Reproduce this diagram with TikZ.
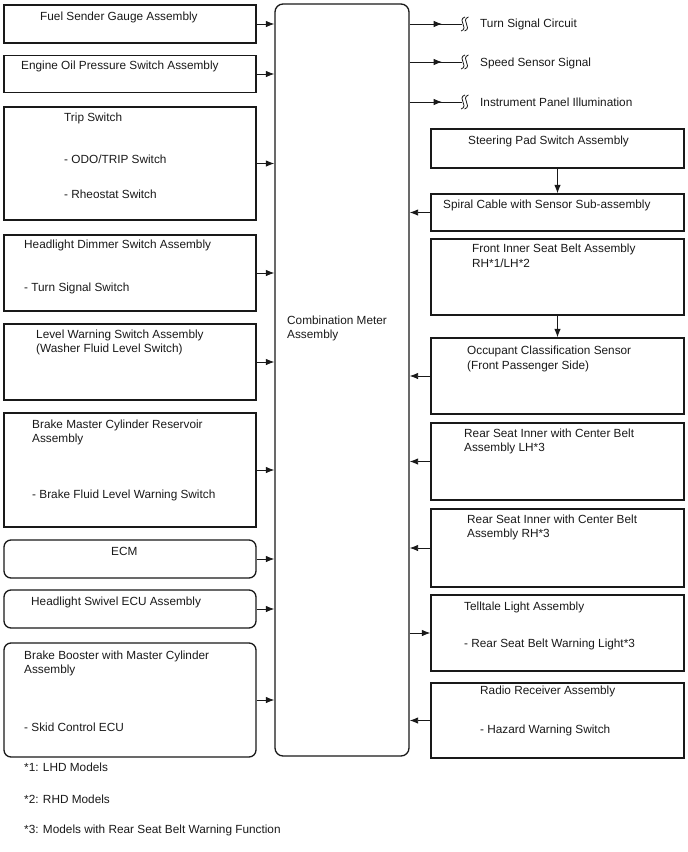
\documentclass[tikz,border=0pt]{standalone}
\usepackage{fontspec}
\setmainfont{Liberation Sans}
\usetikzlibrary{arrows.meta, positioning, calc, decorations.markings}

\begin{document}
\begin{tikzpicture}[x=1pt, y=-1pt,
  every node/.style={font=\fontsize{11.8}{14.3}\selectfont, text=black!90},
  box/.style={draw=black!90, line width=1.3pt, inner sep=0pt, minimum width=252pt},
  rbox/.style={box, rounded corners=7pt},
  txt/.style={anchor=base west, inner sep=0pt, align=left},
  conn/.style={draw=black!90, line width=0.9pt, -{Latex[length=8.5pt,width=6.5pt]}},
  sig/.style={draw=black!90, line width=0.9pt, postaction={decorate},
    decoration={markings, mark=at position 0.62 with {\arrow{Latex[length=8.5pt,width=6.5pt]}}}},
  brk/.pic={
    \draw[black!90, line width=0.8pt] (3,-7) .. controls (-1,-6) and (-0.5,-2) .. (1,0)
      .. controls (2.5,2) and (3,6) .. (-1,7);
    \draw[black!90, line width=0.8pt] (6.5,-7) .. controls (2.5,-6) and (3,-2) .. (4.5,0)
      .. controls (6,2) and (6.5,6) .. (2.5,7);
  }]
  \useasboundingbox (0,0) rectangle (688,852);

  % meter
  \node[draw=black!90, line width=1.3pt, rounded corners=8pt, inner sep=0pt,
    minimum width=134pt, minimum height=752pt] (meter) at (342,380) {};
  % (multi-line labels sit on the baseline of their last line)
  \node[txt] (metertxt) at (287,338.3) {Combination Meter\\Assembly};

  % left side boxes
  \node[box, minimum height=38pt] (fuel) at (130,24) {};
  \node[box, minimum height=37pt] (oil) at (130,74) {};
  \node[box, minimum height=113pt] (trip) at (130,163.5) {};
  \node[box, minimum height=76pt] (dimmer) at (130,273) {};
  \node[box, minimum height=76pt] (level) at (130,362) {};
  \node[box, minimum height=114pt] (brkres) at (130,470) {};
  \node[rbox, minimum height=38pt] (ecm) at (130,559) {};
  \node[rbox, minimum height=38pt] (swivel) at (130,609) {};
  \node[rbox, minimum height=114pt] (booster) at (130,700) {};

  \node[txt] (fueltxt) at (40,20.5) {Fuel Sender Gauge Assembly};
  \node[txt] (oiltxt) at (21,69) {Engine Oil Pressure Switch Assembly};
  \node[txt] (triptxt) at (64,121) {Trip Switch};
  \node[txt] (odotxt) at (64,163) {- ODO/TRIP Switch};
  \node[txt] (rheotxt) at (64,198) {- Rheostat Switch};
  \node[txt] (dimmertxt) at (24,248) {Headlight Dimmer Switch Assembly};
  \node[txt] (turnswtxt) at (24,291) {- Turn Signal Switch};
  \node[txt] (leveltxt) at (36,352.3) {Level Warning Switch Assembly\\(Washer Fluid Level Switch)};
  \node[txt] (brkrestxt) at (32,442.5) {Brake Master Cylinder Reservoir\\Assembly};
  \node[txt] (fluidtxt) at (32,498) {- Brake Fluid Level Warning Switch};
  \node[txt] (ecmtxt) at (111,555) {ECM};
  \node[txt] (swiveltxt) at (31,605) {Headlight Swivel ECU Assembly};
  \node[txt] (boostertxt) at (24,673.3) {Brake Booster with Master Cylinder\\Assembly};
  \node[txt] (skidtxt) at (24,731) {- Skid Control ECU};

  % left side arrows into the meter
  \foreach \n in {fuel, oil, trip, dimmer, level, brkres, ecm, swivel, booster}
    \draw[conn] (\n.east) -- (\n.east -| meter.west);

  % output signals
  \coordinate (turnbrk) at (462,24);
  \coordinate (speedbrk) at (462,62);
  \coordinate (illumbrk) at (462,102);
  \foreach \n in {turnbrk, speedbrk, illumbrk} {
    \draw[sig] (\n -| meter.east) -- (\n);
    \pic at (\n) {brk};
  }
  \node[txt] (turn) at (480,27) {Turn Signal Circuit};
  \node[txt] (speed) at (480,66) {Speed Sensor Signal};
  \node[txt] (illum) at (480,106) {Instrument Panel Illumination};

  % right side boxes
  \tikzset{box/.append style={minimum width=253pt}}
  \node[box, minimum height=39pt] (steer) at (557.5,148.5) {};
  \node[box, minimum height=37pt] (spiral) at (557.5,212.5) {};
  \node[box, minimum height=76pt] (frontbelt) at (557.5,277) {};
  \node[box, minimum height=76pt] (occupant) at (557.5,376) {};
  \node[box, minimum height=77pt] (rearlh) at (557.5,461.5) {};
  \node[box, minimum height=78pt] (rearrh) at (557.5,548) {};
  \node[box, minimum height=76pt] (telltale) at (557.5,633) {};
  \node[box, minimum height=75pt] (radio) at (557.5,720.5) {};

  \node[txt] (steertxt) at (468,144) {Steering Pad Switch Assembly};
  \node[txt] (spiraltxt) at (443,208) {Spiral Cable with Sensor Sub-assembly};
  \node[txt] (frontbelttxt) at (472,267) {Front Inner Seat Belt Assembly\\RH*1/LH*2};
  \node[txt] (occupanttxt) at (467,369) {Occupant Classification Sensor\\(Front Passenger Side)};
  \node[txt] (rearlhtxt) at (464,451.5) {Rear Seat Inner with Center Belt\\Assembly LH*3};
  \node[txt] (rearrhtxt) at (467,537.5) {Rear Seat Inner with Center Belt\\Assembly RH*3};
  \node[txt] (telltaletxt) at (464,610) {Telltale Light Assembly};
  \node[txt] (lighttxt) at (464,647) {- Rear Seat Belt Warning Light*3};
  \node[txt] (radiotxt) at (480,694) {Radio Receiver Assembly};
  \node[txt] (hazardtxt) at (480,733) {- Hazard Warning Switch};

  % right side arrows
  \draw[conn] (steer) -- (spiral);
  \draw[conn] (frontbelt) -- (occupant);
  \foreach \n in {spiral, occupant, rearlh, rearrh, radio}
    \draw[conn] (\n.west) -- (\n.west -| meter.east);
  \draw[conn] (telltale.west -| meter.east) -- (telltale.west);

  % notes
  \node[txt] (note1) at (24,771) {*1: LHD Models};
  \node[txt] (note2) at (24,803) {*2: RHD Models};
  \node[txt] (note3) at (24,833) {*3: Models with Rear Seat Belt Warning Function};
\end{tikzpicture}
\end{document}
